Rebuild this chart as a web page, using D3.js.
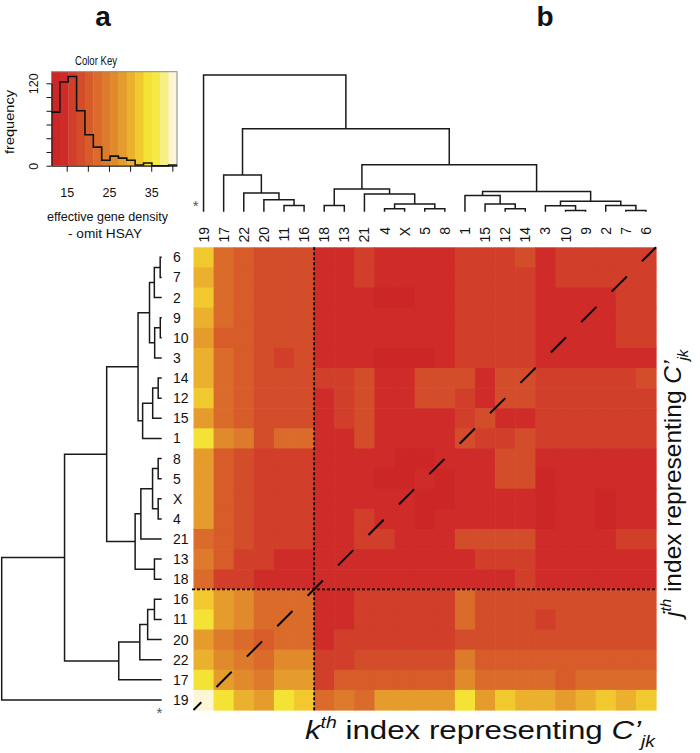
<!DOCTYPE html>
<html><head><meta charset="utf-8">
<script src="https://cdn.jsdelivr.net/npm/d3@7"></script>
<style>
body{margin:0;background:#fff;}
text{font-family:"Liberation Sans",Arial,Helvetica,sans-serif;fill:#111;}
</style>
</head><body><script>
// ---------------- DATA ----------------
const colLabels = ["19","17","22","20","11","16","18","13","21","4","X","5","8","1","15","12","14","3","10","9","2","7","6"];
const rowLabels = ["6","7","2","9","10","3","14","12","15","1","8","5","X","4","21","13","18","16","11","20","22","17","19"];

// lower triangle of the symmetric C'jk matrix, indexed in colLabels order
const gdLower = [
 /*19*/ [40.1],
 /*17*/ [34.4, 28.3],
 /*22*/ [30.4, 26.1, 24.2],
 /*20*/ [28.5, 24.4, 22.2, 20.1],
 /*11*/ [34.0, 28.0, 26.4, 22.4, 22.0],
 /*16*/ [32.3, 28.4, 26.3, 22.5, 22.1, 22.6],
 /*18*/ [22.2, 16.2, 16.6, 14.3, 14.5, 14.1, 14.4],
 /*13*/ [24.1, 20.4, 16.5, 16.0, 14.6, 14.2, 14.3, 14.7],
 /*21*/ [22.4, 20.2, 18.4, 16.4, 16.2, 16.1, 14.5, 14.2, 16.4],
 /*4*/  [28.4, 20.5, 18.2, 16.3, 16.1, 16.5, 14.4, 14.6, 16.2, 14.3],
 /*X*/  [28.1, 20.3, 18.5, 16.2, 16.4, 16.0, 14.2, 14.5, 14.8, 14.1, 14.6],
 /*5*/  [28.3, 20.6, 18.1, 16.5, 16.3, 16.2, 14.6, 14.1, 14.4, 12.6, 12.8, 14.2],
 /*8*/  [28.6, 20.2, 18.3, 16.1, 16.6, 16.3, 14.3, 14.4, 14.7, 14.5, 12.5, 12.9, 14.4],
 /*1*/  [34.5, 26.4, 24.5, 18.6, 22.2, 22.4, 14.5, 14.2, 18.2, 14.6, 14.1, 14.5, 14.3, 18.4],
 /*15*/ [28.8, 22.1, 20.4, 18.2, 18.5, 18.1, 14.6, 16.2, 18.3, 14.4, 14.7, 14.2, 14.5, 16.6, 18.5],
 /*12*/ [32.5, 22.5, 20.3, 18.4, 18.1, 18.6, 14.2, 16.4, 18.5, 14.3, 14.5, 18.2, 18.4, 16.3, 14.6, 18.3],
 /*14*/ [30.6, 22.3, 20.5, 18.3, 18.2, 18.5, 16.1, 16.3, 18.6, 14.4, 14.2, 18.3, 18.5, 18.1, 14.7, 18.4, 18.6],
 /*3*/  [30.3, 22.2, 20.1, 18.5, 16.6, 18.2, 14.5, 14.3, 14.6, 12.4, 12.7, 12.5, 14.2, 16.2, 16.5, 16.1, 16.4, 14.3],
 /*10*/ [28.0, 20.5, 20.2, 18.1, 18.4, 18.3, 14.1, 14.6, 14.3, 14.5, 14.2, 14.8, 14.4, 16.5, 16.3, 16.6, 16.2, 14.5, 14.1],
 /*9*/  [30.1, 22.6, 20.6, 18.4, 18.5, 18.2, 14.4, 14.2, 14.5, 14.7, 14.3, 14.1, 14.6, 16.3, 16.1, 16.4, 16.5, 14.2, 14.4, 14.6],
 /*2*/  [32.1, 22.4, 20.4, 18.2, 18.6, 18.4, 14.3, 14.5, 14.2, 12.6, 12.3, 14.4, 14.1, 16.4, 16.2, 16.5, 16.3, 14.6, 14.5, 14.3, 14.2],
 /*7*/  [30.5, 22.1, 20.2, 18.5, 18.3, 18.1, 14.6, 14.3, 16.1, 14.2, 14.4, 14.5, 14.7, 16.5, 16.6, 16.2, 16.1, 14.4, 16.3, 16.5, 16.2, 16.4],
 /*6*/  [32.4, 22.5, 20.3, 18.6, 18.4, 18.2, 14.5, 14.4, 16.5, 14.1, 14.3, 14.6, 14.2, 16.3, 16.4, 16.1, 18.4, 14.5, 16.2, 16.6, 16.5, 16.3, 16.2]
];

// colour key
const breaks = [11.40, 13.38, 15.36, 17.34, 19.32, 21.30, 23.28, 25.26, 27.24, 29.22, 31.20, 33.18, 35.16, 37.14, 39.12, 41.10];
const bandColors = ["#cc2627","#cf2c29","#d13e2a","#d44d2a","#d75c2a","#da6b2a","#dd7a2b","#e08a2c","#e59c2d","#ebb12e","#f1c92f","#f4e234","#f5ea45","#f7ef85","#fcf6d6"];
const histCounts = [78, 122, 130, 80, 45, 27, 8, 14, 11, 8, 1, 4, 0, 0, 1];
const keyXTicks = [15, 20, 25, 30, 35, 40];
const keyXLabels = [15, 25, 35];
const keyYTicks = [0, 20, 40, 60, 80, 100, 120];
const keyYLabels = [0, 120];

// dendrogram (shared by rows and columns): [childA, childB, height]
const merges = [
 ["11","16",0.62], ["20","m0",1.20], ["22","m1",1.87], ["17","m2",3.67],
 ["18","13",0.62], ["4","X",0.30], ["5","8",0.30], ["m5","m6",0.78],
 ["21","m7",1.78], ["m4","m8",2.27], ["12","14",0.30], ["15","m10",0.77],
 ["1","m11",1.63], ["10","9",0.12], ["3","m13",0.60], ["7","6",0.13],
 ["2","m15",0.63], ["m14","m16",1.04], ["m12","m17",2.02], ["m9","m18",4.70],
 ["m3","m19",8.30], ["19","m20",13.67]
];

// ---------------- DRAW ----------------
const W = 700, H = 753;
const svg = d3.select("body").append("svg").attr("width", W).attr("height", H);

const hmLeft = 193.5, hmRight = 656, hmTop = 247.3, hmBottom = 710;
const x = d3.scaleBand().domain(colLabels).range([hmLeft, hmRight]);
const y = d3.scaleBand().domain(rowLabels).range([hmTop, hmBottom]);
const color = d3.scaleThreshold().domain(breaks.slice(1, -1)).range(bandColors);
const idx = new Map(colLabels.map((d, i) => [d, i]));
const val = (a, b) => { const i = idx.get(a), j = idx.get(b); return i >= j ? gdLower[i][j] : gdLower[j][i]; };

const cells = [];
rowLabels.forEach(r => colLabels.forEach(c => cells.push({r, c, v: val(r, c)})));
svg.append("g").selectAll("rect").data(cells).join("rect")
  .attr("x", d => x(d.c)).attr("y", d => y(d.r))
  .attr("width", x.bandwidth() + 0.6).attr("height", y.bandwidth() + 0.6)
  .attr("fill", d => color(d.v));

// separators
const sepX = x("18"), sepY = y("16");
svg.append("line").attr("x1", sepX).attr("x2", sepX).attr("y1", hmTop).attr("y2", hmBottom + 1)
  .attr("stroke", "#000").attr("stroke-width", 1.8).attr("stroke-dasharray", "3,2");
svg.append("line").attr("x1", hmLeft - 1.5).attr("x2", hmRight).attr("y1", sepY).attr("y2", sepY)
  .attr("stroke", "#000").attr("stroke-width", 1.8).attr("stroke-dasharray", "3,2");
// diagonal
svg.append("line").attr("x1", hmLeft).attr("y1", hmBottom).attr("x2", hmRight).attr("y2", hmTop)
  .attr("stroke", "#000").attr("stroke-width", 2).attr("stroke-dasharray", "21.5,21.5").attr("stroke-dashoffset", 10.5);

// labels
svg.append("g").selectAll("text").data(rowLabels).join("text")
  .attr("x", 173).attr("y", d => y(d) + y.bandwidth() / 2 + 5)
  .attr("font-size", 14).text(d => d);
svg.append("g").selectAll("text").data(colLabels).join("text")
  .attr("transform", d => `translate(${x(d) + x.bandwidth() / 2 + 5},227) rotate(-90)`)
  .attr("text-anchor", "end").attr("font-size", 14).text(d => d);

// dendrograms
function dendro(posOf, hScale, horiz) {
  const nodes = new Map();
  const get = k => nodes.has(k) ? nodes.get(k) : {pos: posOf(k), h: 0};
  const paths = [];
  merges.forEach((m, i) => {
    const A = get(m[0]), B = get(m[1]), h = m[2];
    const pts = [[A.pos, A.h], [A.pos, h], [B.pos, h], [B.pos, B.h]];
    paths.push(pts.map(([p, hh]) => horiz ? [p, hScale(hh)] : [hScale(hh), p]));
    nodes.set("m" + i, {pos: (A.pos + B.pos) / 2, h});
  });
  return paths;
}
const colH = d3.scaleLinear().domain([0, 13.67]).range([211.7, 75]);
const rowH = d3.scaleLinear().domain([0, 13.67]).range([161.7, 1.7]);
const line = d3.line();
svg.append("g").selectAll("path")
  .data(dendro(k => x(k) + x.bandwidth() / 2, colH, true)).join("path")
  .attr("d", line).attr("fill", "none").attr("stroke", "#1a1a1a").attr("stroke-width", 1.5);
svg.append("g").selectAll("path")
  .data(dendro(k => y(k) + y.bandwidth() / 2, rowH, false)).join("path")
  .attr("d", line).attr("fill", "none").attr("stroke", "#1a1a1a").attr("stroke-width", 1.5);
svg.append("text").attr("x", 195.7).attr("y", 211).attr("text-anchor", "middle").attr("font-size", 15).style("fill", "#555").text("*");
svg.append("text").attr("x", 159.5).attr("y", 717.5).attr("text-anchor", "middle").attr("font-size", 15).style("fill", "#555").text("*");

// ---------------- COLOR KEY ----------------
const keyX = d3.scaleLinear().domain([breaks[0], breaks[breaks.length - 1]]).range([51.5, 177]);
const keyY = d3.scaleLinear().domain([0, 120]).range([165.7, 83.3]);
const keyTop = 71.7;
const kb = svg.append("g");
kb.selectAll("rect").data(bandColors).join("rect")
  .attr("x", (d, i) => keyX(breaks[i])).attr("y", keyTop)
  .attr("width", (d, i) => keyX(breaks[i + 1]) - keyX(breaks[i]) + 0.4)
  .attr("height", keyY(0) - keyTop).attr("fill", d => d);
kb.append("rect").attr("x", keyX.range()[0]).attr("y", keyTop)
  .attr("width", keyX.range()[1] - keyX.range()[0]).attr("height", keyY(0) - keyTop)
  .attr("fill", "none").attr("stroke", "#8a8a8a").attr("stroke-width", 1);
let hp = [];
histCounts.forEach((c, i) => { hp.push([keyX(breaks[i]), keyY(c)]); hp.push([keyX(breaks[i + 1]), keyY(c)]); });
kb.append("path").attr("d", d3.line()(hp)).attr("fill", "none").attr("stroke", "#111").attr("stroke-width", 1.6);

const ax = kb.append("g").attr("transform", `translate(0,${keyY(0)})`)
  .call(d3.axisBottom(keyX).tickValues(keyXTicks).tickSize(6).tickSizeOuter(0)
    .tickFormat(d => keyXLabels.includes(d) ? d : ""));
ax.select(".domain").attr("stroke", "#111");
ax.selectAll("line").attr("stroke", "#111");
ax.selectAll("text").attr("y", 31).attr("dy", 0).attr("font-size", 12.5).style("font-family", '"Liberation Sans",Arial,sans-serif').style("fill", "#111");

const ay = kb.append("g").attr("transform", `translate(${keyX.range()[0]},0)`)
  .call(d3.axisLeft(keyY).tickValues(keyYTicks).tickSize(5).tickSizeOuter(0)
    .tickFormat(d => keyYLabels.includes(d) ? d : ""));
ay.select(".domain").attr("stroke", "#111");
ay.selectAll("line").attr("stroke", "#111");
ay.selectAll("text").attr("x", 0).attr("dy", 0).attr("text-anchor", "middle")
  .attr("transform", "translate(-14,0) rotate(-90)").attr("font-size", 12.5)
  .style("font-family", '"Liberation Sans",Arial,sans-serif').style("fill", "#111");

svg.append("text").attr("x", 96).attr("y", 65).attr("text-anchor", "middle").attr("font-size", 13)
  .attr("textLength", 42).attr("lengthAdjust", "spacingAndGlyphs").text("Color Key");
svg.append("text").attr("transform", "translate(14,122) rotate(-90)").attr("text-anchor", "middle")
  .attr("font-size", 13).attr("textLength", 64).attr("lengthAdjust", "spacingAndGlyphs").text("frequency");
svg.append("text").attr("x", 107.5).attr("y", 221).attr("text-anchor", "middle").attr("font-size", 13)
  .attr("textLength", 121).attr("lengthAdjust", "spacingAndGlyphs").text("effective gene density");
svg.append("text").attr("x", 105).attr("y", 238).attr("text-anchor", "middle").attr("font-size", 13)
  .attr("textLength", 74).attr("lengthAdjust", "spacingAndGlyphs").text("- omit HSAY");

// panel letters
svg.append("text").attr("x", 103).attr("y", 26).attr("text-anchor", "middle").attr("font-size", 28).attr("font-weight", "bold").text("a");
svg.append("text").attr("x", 545).attr("y", 26).attr("text-anchor", "middle").attr("font-size", 28).attr("font-weight", "bold").text("b");

// axis titles
function title(sel, main, size, len) {
  const t = sel.append("text").attr("font-size", size);
  if (len) t.attr("textLength", len).attr("lengthAdjust", "spacingAndGlyphs");
  t.append("tspan").attr("font-style", "italic").text(main);
  t.append("tspan").attr("font-style", "italic").attr("font-size", size * 0.62).attr("dy", -size * 0.42).text("th");
  t.append("tspan").attr("dy", size * 0.42).text(" index representing ");
  t.append("tspan").attr("font-style", "italic").text("C\u2019");
  t.append("tspan").attr("font-style", "italic").attr("font-size", size * 0.62).attr("dy", size * 0.3).text("jk");
  return t;
}
title(svg.append("g").attr("transform", "translate(305,739)"), "k", 26, 350);
title(svg.append("g").attr("transform", "translate(681,617) rotate(-90)"), "j", 24.5);
</script></body></html>
